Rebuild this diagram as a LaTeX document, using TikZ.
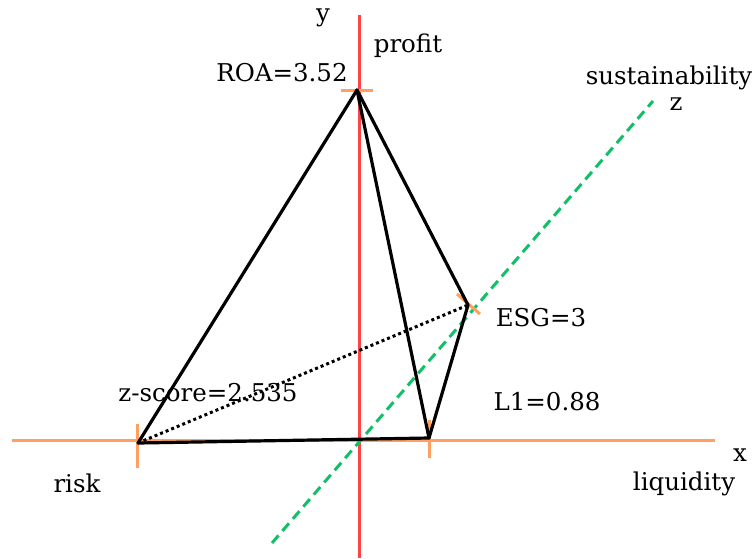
\documentclass[tikz,border=0pt]{standalone}
\usepackage{fontspec}
\setmainfont{DejaVu Serif}
\definecolor{axred}{HTML}{FF4444}
\definecolor{axorange}{HTML}{FFA060}
\definecolor{axgreen}{HTML}{11C066}
\begin{document}
\begin{tikzpicture}[x=1pt,y=-1pt,
  lbl/.style={font=\fontsize{24.5}{28}\selectfont, inner sep=0pt, anchor=center},
  edge/.style={line width=3.2pt, black, line cap=round, line join=round},
  tick/.style={line width=3pt, axorange}]
\useasboundingbox (0,0) rectangle (752,558);
% axes
\coordinate (xl) at (12,440); \coordinate (xr) at (715,440);
\coordinate (yt) at (359,15); \coordinate (yb) at (359,558);
\coordinate (zb) at (272,543); \coordinate (zt) at (653,101);
\draw[line width=3pt, axorange] (xl) -- (xr);
\draw[line width=3pt, axred] (yt) -- (yb);
\draw[line width=3pt, axgreen, dash pattern=on 10pt off 6pt] (zb) -- (zt);
% points
\coordinate (roa) at (357,90);
\coordinate (risk) at (138,443);
\coordinate (lone) at (429,438);
\coordinate (esg) at (468,305);
% ticks
\draw[tick] (341,90) -- (373,90);
\draw[tick] (137,424) -- (137,468);
\draw[tick] (429,420) -- (429,458);
\draw[tick] (457,294) -- (480,314);
% edges
\draw[edge] (roa) -- (risk);
\draw[edge] (roa) -- (esg);
\draw[edge] (roa) -- (lone);
\draw[edge] (esg) -- (lone);
\draw[edge] (risk) -- (lone);
\draw[line width=3pt, black, dash pattern=on 3pt off 3pt] (risk) -- (esg);
% labels
\node[lbl] (ty) at (323,18) {y};
\node[lbl] (tprofit) at (408,46) {profit};
\node[lbl] (troa) at (282,73) {ROA=3.52};
\node[lbl] (tsus) at (669,78) {sustainability};
\node[lbl] (tz) at (676,104) {z};
\node[lbl] (tesg) at (541,318) {ESG=3};
\node[lbl] (tzs) at (208,393) {z-score=2.535};
\node[lbl] (tl1) at (547,402) {L1=0.88};
\node[lbl] (trisk) at (77,483) {risk};
\node[lbl] (tx) at (740,455) {x};
\node[lbl] (tliq) at (684,484) {liquidity};
\end{tikzpicture}
\end{document}
